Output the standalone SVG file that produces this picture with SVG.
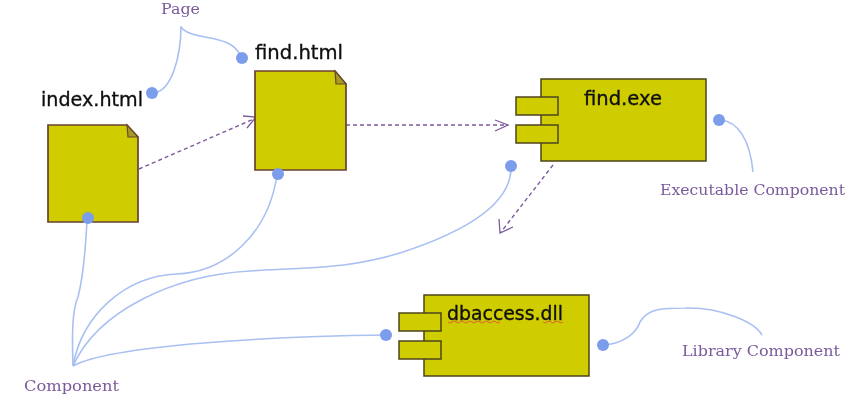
<svg xmlns="http://www.w3.org/2000/svg" width="861" height="419" viewBox="0 0 861 419">
<style>
text{font-family:"Liberation Serif","DejaVu Serif",serif}
.t{font-family:"DejaVu Sans","Liberation Sans",sans-serif;font-size:20px;fill:#111;stroke:#111;stroke-width:.35}
.n{font-family:"DejaVu Serif","Liberation Serif",serif;font-size:15px;fill:#7a5a9c}
.body{fill:#cfcc00;stroke:#4e4418;stroke-width:1.5}
.page{fill:#cfcc00;stroke:#6a4030;stroke-width:1.7}
.fold{fill:#a89a20;stroke:#6a4a30;stroke-width:1.2}
.dep{fill:none;stroke:#7d5a9e;stroke-width:1.4;stroke-dasharray:4 3}
.head{fill:none;stroke:#7d5a9e;stroke-width:1.3}
.link{fill:none;stroke:#a9c0f2;stroke-width:1.6}
.dot{fill:#7c9cec}
</style>
<defs><filter id="soft" x="-2%" y="-2%" width="104%" height="104%"><feGaussianBlur stdDeviation="0.45"/></filter></defs>
<rect width="861" height="419" fill="#fff"/>
<g filter="url(#soft)">
<g id="connectors">
<path class="dep" d="M139 169L256 118"/><path class="head" d="M243 116L256 117L247 128"/>
<path class="dep" d="M346 125L508 125"/><path class="head" d="M495 120L508 125L495 131"/>
<path class="dep" d="M553 165L501 232"/><path class="head" d="M499 219L500 233L513 227"/>
<path class="link" d="M181 26C181 55 172 92 153 93"/>
<path class="link" d="M181 27C192 42 232 32 241 57"/>
<path class="link" d="M753 172C750 140 738 121 720 120"/>
<path class="link" d="M603 345C622 344 636 334 640 322C648 308 664 308 685 308C720 307 755 322 762 335"/>
<path class="link" d="M73 366C72 335 72 310 78 297C83 278 86 240 87 220"/>
<path class="link" d="M73 366C82 315 125 276 177 274C225 272 268 235 277 175"/>
<path class="link" d="M73 366C98 310 175 275 250 271C320 267 350 268 400 253C465 232 509 205 511 170"/>
<path class="link" d="M73 366C110 345 280 336 386 335"/>
</g>
<g id="index-html">
<path class="page" d="M48 125H127L138 137V222H48Z"/><path class="fold" d="M127 125L138 137H128Z"/>
<text class="t" x="41" y="106" textLength="102" lengthAdjust="spacingAndGlyphs">index.html</text>
<circle class="dot" cx="88" cy="218" r="6"/><circle class="dot" cx="152" cy="93" r="6"/>
</g>
<g id="find-html">
<path class="page" d="M255 71H335L346 84V170H255Z"/><path class="fold" d="M335 71L346 84H336Z"/>
<text class="t" x="255" y="59" textLength="88" lengthAdjust="spacingAndGlyphs">find.html</text>
<circle class="dot" cx="278" cy="174" r="6"/><circle class="dot" cx="242" cy="58" r="6"/>
</g>
<g id="find-exe">
<rect class="body" x="541" y="79" width="165" height="82"/>
<rect class="body" x="516" y="97" width="42" height="18"/><rect class="body" x="516" y="125" width="42" height="18"/>
<text class="t" x="584" y="105" textLength="78" lengthAdjust="spacingAndGlyphs">find.exe</text>
<circle class="dot" cx="719" cy="120" r="6"/><circle class="dot" cx="511" cy="166" r="6"/>
</g>
<g id="dbaccess-dll">
<rect class="body" x="424" y="295" width="165" height="81"/>
<rect class="body" x="399" y="313" width="42" height="18"/><rect class="body" x="399" y="341" width="42" height="18"/>
<text class="t" x="447" y="320" textLength="116" lengthAdjust="spacingAndGlyphs">dbaccess.dll</text>
<path d="M448 322q2 2 4 0t4 0t4 0t4 0t4 0t4 0t4 0t4 0t4 0t4 0t4 0t4 0t4 0M543 322q2 2 4 0t4 0t4 0t4 0t4 0" fill="none" stroke="#e2603a" stroke-width="1"/>
<circle class="dot" cx="386" cy="335" r="6"/><circle class="dot" cx="603" cy="345" r="6"/>
</g>
<g id="page-label"><text class="n" x="161" y="14" textLength="39" lengthAdjust="spacingAndGlyphs">Page</text></g>
<g id="component-label"><text class="n" x="24" y="391" textLength="95" lengthAdjust="spacingAndGlyphs">Component</text></g>
<g id="executable-label"><text class="n" x="660" y="195" textLength="185" lengthAdjust="spacingAndGlyphs">Executable Component</text></g>
<g id="library-label"><text class="n" x="682" y="356" textLength="158" lengthAdjust="spacingAndGlyphs">Library Component</text></g>
</g>
</svg>
